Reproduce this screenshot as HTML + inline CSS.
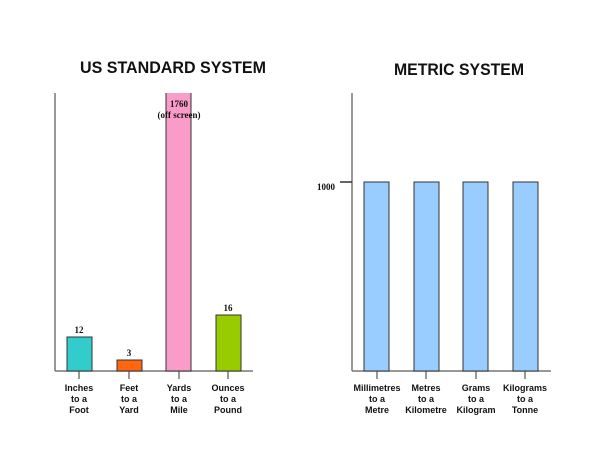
<!DOCTYPE html>
<html><head><style>
body{margin:0;background:#fff;width:600px;height:456px;overflow:hidden}
svg text{font-family:"Liberation Sans",sans-serif}
</style></head><body>
<svg width="600" height="456" xmlns="http://www.w3.org/2000/svg">
<text x="173" y="73" text-anchor="middle" font-size="17" font-weight="bold" fill="#111" textLength="186" lengthAdjust="spacingAndGlyphs">US STANDARD SYSTEM</text>
<text x="459" y="75" text-anchor="middle" font-size="17" font-weight="bold" fill="#111" textLength="130" lengthAdjust="spacingAndGlyphs">METRIC SYSTEM</text>
<g stroke="#777" stroke-width="1.5">
<line x1="55" y1="93" x2="55" y2="371"/><line x1="55" y1="371" x2="253" y2="371"/>
<line x1="352" y1="93" x2="352" y2="371"/><line x1="352" y1="371" x2="551" y2="371"/>
<line x1="340" y1="182" x2="352" y2="182" stroke="#333"/>
<line x1="79" y1="371" x2="79" y2="379"/><line x1="129" y1="371" x2="129" y2="379"/><line x1="179" y1="371" x2="179" y2="379"/><line x1="228" y1="371" x2="228" y2="379"/>
<line x1="377" y1="371" x2="377" y2="379"/><line x1="426" y1="371" x2="426" y2="379"/><line x1="476" y1="371" x2="476" y2="379"/><line x1="525" y1="371" x2="525" y2="379"/>
</g>
<g stroke="#333" stroke-width="1">
<rect x="67" y="337" width="25" height="34" fill="#33cccc"/>
<rect x="117" y="360" width="25" height="11" fill="#ff6611"/>
<rect x="216" y="315" width="25" height="56" fill="#99cc00"/>
<rect x="364" y="182" width="25" height="189" fill="#99ccff"/>
<rect x="414" y="182" width="25" height="189" fill="#99ccff"/>
<rect x="463" y="182" width="25" height="189" fill="#99ccff"/>
<rect x="513" y="182" width="25" height="189" fill="#99ccff"/>
</g>
<rect x="166" y="93" width="25" height="278" fill="#f99cc9"/>
<path d="M166 93V371H191V93" fill="none" stroke="#333" stroke-width="1"/>
<g font-size="9" fill="#111" text-anchor="middle" font-weight="600">
<text x="79" y="333" style="font-family:'Liberation Serif',serif">12</text>
<text x="129" y="356" style="font-family:'Liberation Serif',serif">3</text>
<text x="179" y="107" style="font-family:'Liberation Serif',serif">1760</text>
<text x="179" y="118" style="font-family:'Liberation Serif',serif">(off screen)</text>
<text x="228" y="311" style="font-family:'Liberation Serif',serif">16</text>
<text x="326" y="190" style="font-family:'Liberation Serif',serif">1000</text>
</g>
<g font-size="9" fill="#111" text-anchor="middle" font-weight="600">
<text x="79" y="391">Inches</text><text x="79" y="402">to a</text><text x="79" y="413">Foot</text>
<text x="129" y="391">Feet</text><text x="129" y="402">to a</text><text x="129" y="413">Yard</text>
<text x="179" y="391">Yards</text><text x="179" y="402">to a</text><text x="179" y="413">Mile</text>
<text x="228" y="391">Ounces</text><text x="228" y="402">to a</text><text x="228" y="413">Pound</text>
<text x="377" y="391">Millimetres</text><text x="377" y="402">to a</text><text x="377" y="413">Metre</text>
<text x="426" y="391">Metres</text><text x="426" y="402">to a</text><text x="426" y="413">Kilometre</text>
<text x="476" y="391">Grams</text><text x="476" y="402">to a</text><text x="476" y="413">Kilogram</text>
<text x="525" y="391">Kilograms</text><text x="525" y="402">to a</text><text x="525" y="413">Tonne</text>
</g>
</svg>
</body></html>
